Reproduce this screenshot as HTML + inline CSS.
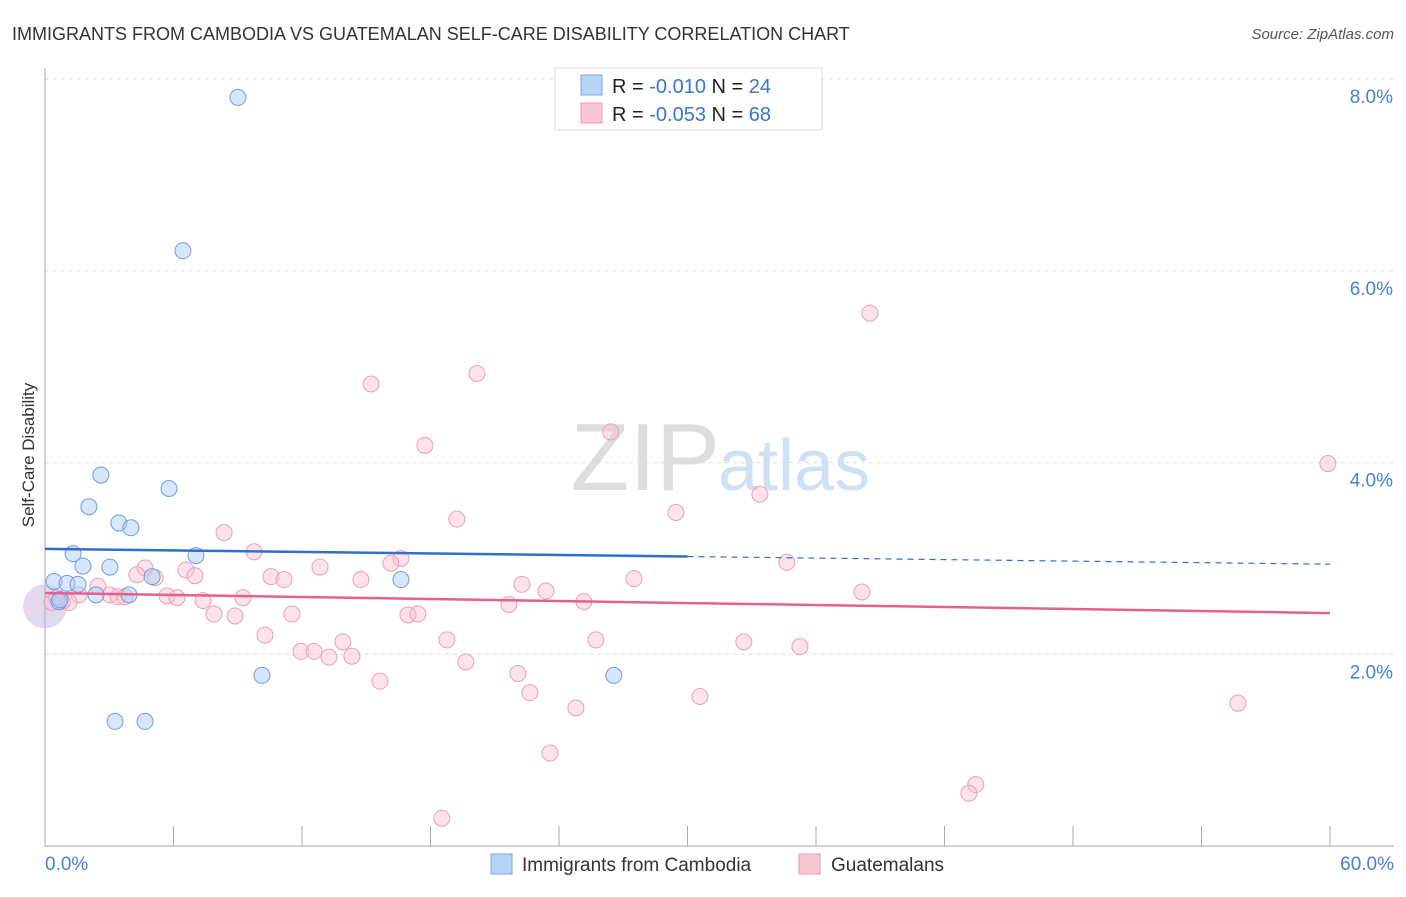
<!DOCTYPE html>
<html><head><meta charset="utf-8"><style>
body{margin:0;background:#fff;font-family:"Liberation Sans",sans-serif}
svg text{font-family:"Liberation Sans",sans-serif}
</style></head><body>
<svg id="c" width="1406" height="892">
<text x="12" y="40" font-size="18" fill="#333">IMMIGRANTS FROM CAMBODIA VS GUATEMALAN SELF-CARE DISABILITY CORRELATION CHART</text>
<text x="1394" y="39" font-size="15" fill="#555" font-style="italic" text-anchor="end">Source: ZipAtlas.com</text>
<text x="720" y="490" font-size="96" fill="#ddd" text-anchor="end" font-family="Liberation Serif">ZIP</text>
<text x="718" y="490" font-size="72" fill="#cfe0f3">atlas</text>
<text x="34" y="455" font-size="17" fill="#333" transform="rotate(-90 34 455)" text-anchor="middle">Self-Care Disability</text>
<g id="grid"></g><g id="marks"></g>
<g>
<rect x="555" y="68" width="267" height="62" fill="#fff" stroke="#ddd"/>
<rect x="581" y="75" width="21" height="20" fill="#b8d4f5" stroke="#7aa8e6"/>
<rect x="581" y="103" width="21" height="20" fill="#f9c6d5" stroke="#eb9ab4"/>
<text x="612" y="93" font-size="20" fill="#222">R = <tspan fill="#3a74d0">-0.010</tspan>   N = <tspan fill="#3a74d0">24</tspan></text>
<text x="612" y="121" font-size="20" fill="#222">R = <tspan fill="#3a74d0">-0.053</tspan>   N = <tspan fill="#3a74d0">68</tspan></text>
</g>
<g>
<rect x="491" y="854" width="21" height="20" fill="#b8d4f5" stroke="#7aa8e6"/>
<text x="522" y="871" font-size="19" fill="#333">Immigrants from Cambodia</text>
<rect x="799" y="854" width="21" height="20" fill="#f9c6d5" stroke="#eb9ab4"/>
<text x="831" y="871" font-size="19" fill="#333">Guatemalans</text>
</g>
</svg>
<script>
const yTicks=[2,4,6,8];
const yTickLabels=["2.0%","4.0%","6.0%","8.0%"];
const xLabels=["0.0%","60.0%"];
const blueX=[9.01,6.44,2.61,5.79,2.05,3.45,4.01,1.31,7.05,1.77,3.03,0.42,1.03,1.54,5.0,16.62,2.38,3.92,0.65,10.13,26.56,3.27,4.67,0.7];
const blueY=[7.81,6.21,3.87,3.73,3.54,3.37,3.32,3.05,3.03,2.92,2.91,2.76,2.74,2.73,2.81,2.78,2.62,2.62,2.55,1.78,1.78,1.30,1.30,2.57];
const pinkX=[38.52,20.17,15.22,26.42,17.74,59.9,33.38,29.46,19.23,8.36,9.76,16.62,16.15,34.64,12.84,6.58,4.67,4.29,7.0,5.14,10.55,11.16,14.75,27.5,22.27,23.39,38.14,2.47,1.59,3.03,3.41,3.73,5.7,6.16,9.24,7.38,1.12,0.33,25.16,21.66,7.89,8.87,11.53,16.95,17.41,10.27,18.77,13.91,25.72,32.63,35.25,11.95,12.56,13.26,14.33,19.65,22.08,15.64,22.64,30.58,24.79,55.7,23.58,43.46,43.14,18.53,0.8,0.56];
const pinkY=[5.56,4.93,4.82,4.32,4.18,3.99,3.67,3.48,3.41,3.27,3.07,3.00,2.95,2.96,2.91,2.88,2.90,2.83,2.82,2.80,2.81,2.78,2.78,2.79,2.73,2.66,2.65,2.71,2.62,2.62,2.60,2.60,2.61,2.59,2.59,2.56,2.54,2.54,2.55,2.52,2.42,2.40,2.42,2.41,2.42,2.20,2.15,2.13,2.15,2.13,2.08,2.03,2.03,1.97,1.98,1.92,1.80,1.72,1.60,1.56,1.44,1.49,0.97,0.64,0.55,0.29,2.55,2.59];
const blueTrend=[3.10,2.94];
const pinkTrend=[2.64,2.43];
const X=v=>45+v/60*1285, Y=v=>846-v*95.85;
const NS="http://www.w3.org/2000/svg";
function mk(t,a,p){const e=document.createElementNS(NS,t);for(const k in a)e.setAttribute(k,a[k]);p.appendChild(e);return e;}
const g=document.getElementById('grid'), m=document.getElementById('marks');
yTicks.forEach((t,i)=>{
 const l=mk('line',{x1:45,x2:1394,y1:Y(t),y2:Y(t),stroke:'#ddd','stroke-dasharray':'4 4'},g);
 
 
 const tx=mk('text',{x:1393,y:Y(t)+24,'font-size':19,fill:'#4a7fd4','text-anchor':'end'},g);
 tx.textContent=yTickLabels[i];
 
 
});
const ax=mk('line',{x1:45,x2:45,y1:68,y2:846,stroke:'#aaa'},g);


const bx=mk('line',{x1:45,x2:1394,y1:846,y2:846,stroke:'#aaa'},g);


for(let v=6;v<=60;v+=6){const t=mk('line',{x1:X(v),x2:X(v),y1:826,y2:846,stroke:'#aaa'},g);
 
 }
[[0,'start',45],[60,'end',1394]].forEach((d,i)=>{const t=mk('text',{x:d[2],y:870,'font-size':19,fill:'#4a7fd4','text-anchor':d[1]},g);t.textContent=xLabels[i];
 
 });
const big=mk('circle',{cx:X(0),cy:Y(2.5),r:22,fill:'rgba(190,170,220,0.45)'},m);


pinkX.forEach((x,i)=>{const c=mk('circle',{cx:X(x),cy:Y(pinkY[i]),r:8,fill:'rgba(248,190,208,0.45)',stroke:'#eca0b8','stroke-width':1},m);
 
 });
blueX.forEach((x,i)=>{const c=mk('circle',{cx:X(x),cy:Y(blueY[i]),r:8,fill:'rgba(176,206,244,0.5)',stroke:'#6d9ee3','stroke-width':1},m);
 
 });
const by=v=>blueTrend[0]+(blueTrend[1]-blueTrend[0])*v/60;
const b1=mk('line',{x1:X(0),y1:Y(by(0)),x2:X(30),y2:Y(by(30)),stroke:'#2f6fd0','stroke-width':2.5},m);


const b2=mk('line',{x1:X(30),y1:Y(by(30)),x2:X(60),y2:Y(by(60)),stroke:'#2f6fd0','stroke-width':1.2,'stroke-dasharray':'6 5'},m);


const p1=mk('line',{x1:X(0),y1:Y(pinkTrend[0]),x2:X(60),y2:Y(pinkTrend[1]),stroke:'#e4608e','stroke-width':2.5},m);


</script>
</body></html>
